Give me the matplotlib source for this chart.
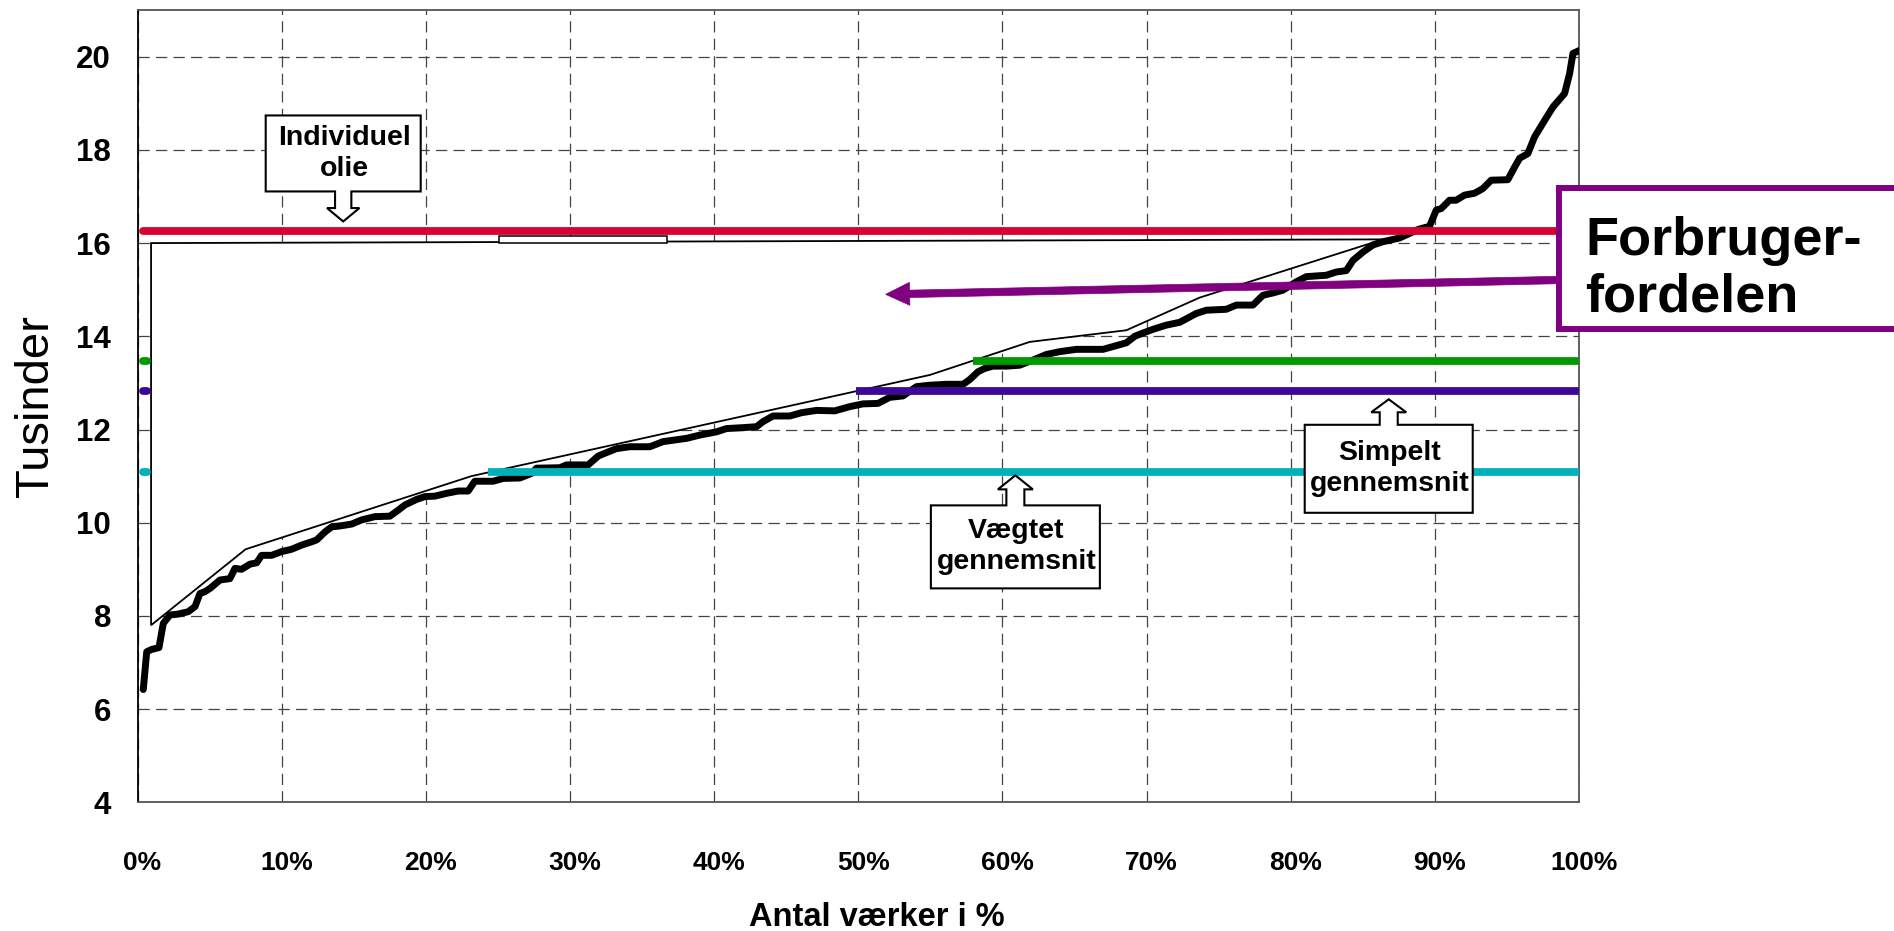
import matplotlib
matplotlib.use('Agg')
import matplotlib.pyplot as plt
import numpy as np
from matplotlib.patches import Polygon, Rectangle
from matplotlib.transforms import IdentityTransform, ScaledTranslation

plt.rcParams['font.family'] = ['Liberation Sans', 'DejaVu Sans']

# ---------------- data ----------------
# thick curve: share of plants (%) vs. cost (thousands)
curve_pct = [0.40, 0.64, 0.98, 1.49, 1.79, 2.25, 2.83, 3.52, 3.99, 4.33, 4.68, 5.03,
             5.72, 6.41, 6.76, 7.22, 7.80, 8.27, 8.61, 9.31, 10.0, 10.69, 11.39, 12.08,
             12.43, 13.0, 13.47, 14.04, 14.85, 15.55, 16.47, 17.51, 18.09, 18.55, 19.36,
             19.94, 20.63, 21.44, 22.25, 22.94, 23.40, 24.67, 25.37, 26.53, 27.34, 27.68,
             29.30, 29.76, 31.26, 31.96, 32.42, 33.23, 34.15, 35.54, 36.46, 37.16, 38.09,
             39.01, 40.17, 40.86, 42.01, 42.94, 43.40, 44.09, 45.25, 46.06, 47.10, 48.37,
             49.40, 50.33, 51.37, 52.18, 53.10, 54.04, 54.96, 56.10, 57.27, 57.73, 58.31,
             58.77, 59.35, 60.28, 61.20, 62.12, 63.05, 63.97, 65.13, 66.98, 67.67, 68.60,
             69.18, 69.75, 70.45, 71.37, 72.30, 73.45, 74.15, 75.53, 76.23, 77.38, 78.07,
             78.77, 79.46, 80.39, 81.08, 82.47, 83.16, 83.86, 84.32, 85.02, 85.71, 86.40,
             87.55, 88.90, 89.63, 90.10, 90.44, 91.02, 91.48, 92.06, 92.75, 93.33, 93.91,
             95.06, 95.53, 95.88, 96.45, 96.92, 97.49, 98.19, 99.00, 99.35, 99.58, 100.0]
curve_val = [6.42, 7.23, 7.28, 7.32, 7.84, 8.02, 8.04, 8.09, 8.20, 8.48, 8.52, 8.59,
             8.77, 8.80, 9.02, 9.00, 9.11, 9.14, 9.30, 9.30, 9.38, 9.43, 9.52, 9.59,
             9.63, 9.80, 9.91, 9.93, 9.97, 10.06, 10.13, 10.14, 10.27, 10.38, 10.50,
             10.56, 10.57, 10.63, 10.68, 10.68, 10.89, 10.89, 10.95, 10.96, 11.06, 11.17,
             11.18, 11.24, 11.24, 11.43, 11.49, 11.59, 11.63, 11.63, 11.74, 11.77, 11.81,
             11.88, 11.95, 12.02, 12.04, 12.06, 12.17, 12.29, 12.29, 12.36, 12.41, 12.40,
             12.49, 12.55, 12.56, 12.69, 12.72, 12.92, 12.95, 12.97, 12.97, 13.07, 13.24,
             13.31, 13.36, 13.36, 13.38, 13.49, 13.61, 13.67, 13.72, 13.72, 13.78, 13.86,
             14.00, 14.07, 14.15, 14.24, 14.30, 14.49, 14.56, 14.58, 14.67, 14.67, 14.88,
             14.93, 14.99, 15.17, 15.28, 15.31, 15.38, 15.41, 15.63, 15.81, 15.96, 16.03,
             16.11, 16.30, 16.36, 16.71, 16.74, 16.92, 16.92, 17.03, 17.07, 17.17, 17.35,
             17.36, 17.63, 17.82, 17.92, 18.28, 18.57, 18.92, 19.21, 19.64, 20.07, 20.13]

# thin piecewise approximation (outline of the white area)
approx_pct = [0.94, 7.50, 23.17, 54.96, 61.90, 68.60, 73.68, 86.40]
approx_val = [7.80, 9.43, 11.00, 13.17, 13.88, 14.13, 14.83, 16.08]
approx_top_left = 16.00

# small box on top edge
small_box_pct = [25.1, 36.7]
small_box_val = [16.00, 16.15]

# horizontal levels
level_names = ['Individuel olie', 'Forbruger', 'Simpelt gennemsnit', 'Vægtet gennemsnit']
level_vals = [16.25, 13.48, 12.82, 11.08]
level_colors = ['#DA0033', '#009A00', '#3C0996', '#00B1BB']

# consumer-surplus arrow (from, to)
arrow_pct = [98.9, 51.9]
arrow_val = [15.21, 14.90]

x_ticks = [i / 10 for i in range(11)]
x_ticklabels = [f'{i * 10}%' for i in range(11)]
y_ticks = list(range(4, 21, 2))

# ---------------- figure ----------------
W, H = 1894, 931
fig = plt.figure(figsize=(W / 100, H / 100), dpi=100)
ax = fig.add_axes([137.5 / W, (H - 802.3) / H, (1579 - 137.5) / W, 792.2 / H])
ax.set_xlim(0, 1)
ax.set_ylim(4, 21)

ax.set_xticks(x_ticks)
ax.set_xticklabels(x_ticklabels, fontsize=19, fontweight='bold')
ax.set_yticks(y_ticks)
ax.set_yticklabels([str(v) for v in y_ticks], fontsize=22.5, fontweight='bold')
ax.tick_params(axis='both', length=0)
ax.tick_params(axis='y', pad=19)
ax.tick_params(axis='x', pad=35)
for lab in ax.get_xticklabels():
    lab.set_transform(lab.get_transform() + ScaledTranslation(5 / 100, 0, fig.dpi_scale_trans))

ax.set_axisbelow(True)
ax.grid(True, color='#444444', lw=0.9, linestyle=(0, (9, 5)))
for side in ['top', 'right', 'bottom']:
    ax.spines[side].set_color('#555555')
    ax.spines[side].set_linewidth(1.3)
ax.spines['left'].set_color('black')
ax.spines['left'].set_linewidth(1.3)

# white polygon with thin outline (hides grid and level lines inside it)
poly_x = [p / 100 for p in approx_pct] + [approx_pct[0] / 100]
poly_y = approx_val + [approx_top_left]
ax.add_patch(Polygon(np.column_stack([poly_x, poly_y]), closed=True,
                     facecolor='white', edgecolor='black', lw=1.3, zorder=2))
ax.add_patch(Rectangle((small_box_pct[0] / 100, small_box_val[0]),
                       (small_box_pct[1] - small_box_pct[0]) / 100,
                       small_box_val[1] - small_box_val[0],
                       facecolor='white', edgecolor='black', lw=1.1, zorder=2.1))

# thick curve
ax.plot([p / 100 for p in curve_pct], curve_val, color='black', lw=5.0,
        solid_joinstyle='round', solid_capstyle='round', zorder=3)

# horizontal level lines, only the parts outside the white area are visible
left_edge = approx_pct[0] / 100
cap_frac = 3.9 / 1441.5
for v, c in zip(level_vals, level_colors):
    if v > max(approx_val) + 0.1:
        ax.plot([0.004, 1.0], [v, v], color=c, lw=5.6, solid_capstyle='round', zorder=4)
    else:
        x_int = np.interp(v, approx_val, approx_pct) / 100
        ax.plot([0.004, left_edge - cap_frac], [v, v], color=c, lw=5.6,
                solid_capstyle='round', zorder=4)
        ax.plot([x_int, 1.0], [v, v], color=c, lw=5.6, solid_capstyle='butt', zorder=4)

fig.canvas.draw()
ident = IdentityTransform()


def to_px(xf, yv):
    return ax.transData.transform((xf, yv))


def callout(tip_frac, level, up, gap, box_w, box_h, shaft_w, shaft_len,
            head_w, head_len, lines, fs=20.5):
    tx, ty = to_px(tip_frac, level)
    s = 1 if up else -1  # direction from box to tip in display y
    tip_y = ty - s * gap
    base = tip_y - s * head_len
    box_edge = base - s * shaft_len
    far_edge = box_edge - s * box_h
    bx0, bx1 = tx - box_w / 2, tx + box_w / 2
    verts = [(bx0, far_edge), (bx1, far_edge), (bx1, box_edge),
             (tx + shaft_w / 2, box_edge), (tx + shaft_w / 2, base),
             (tx + head_w / 2, base), (tx, tip_y), (tx - head_w / 2, base),
             (tx - shaft_w / 2, base), (tx - shaft_w / 2, box_edge), (bx0, box_edge)]
    fig.add_artist(Polygon(verts, closed=True, facecolor='white', edgecolor='black',
                           lw=1.5, transform=ident, zorder=6))
    cy = (box_edge + far_edge) / 2
    fig.text(tx + 1, cy, '\n'.join(lines), transform=ident, ha='center', va='center',
             fontsize=fs, fontweight='bold', linespacing=1.25, zorder=7)


callout(0.1427, level_vals[0], up=False, gap=10, box_w=155, box_h=76, shaft_w=16.3,
        shaft_len=16.6, head_w=32.4, head_len=13.4, lines=['Individuel', 'olie'])
callout(0.609, level_vals[3], up=True, gap=3, box_w=169, box_h=83, shaft_w=18,
        shaft_len=16, head_w=35, head_len=14, lines=['Vægtet', 'gennemsnit'])
callout(0.868, level_vals[2], up=True, gap=8, box_w=168, box_h=88, shaft_w=18,
        shaft_len=12.5, head_w=35, head_len=13, lines=['Simpelt', 'gennemsnit'])

# purple arrow
p0 = to_px(arrow_pct[0] / 100, arrow_val[0])
p1 = to_px(arrow_pct[1] / 100, arrow_val[1])
d = (p1 - p0) / np.hypot(*(p1 - p0))
n = np.array([-d[1], d[0]])
hl, hw, sw = 24, 11.5, 3.7
b = p1 - d * hl
arrow_verts = [p0 + n * sw, b + n * sw, b + n * hw, p1, b - n * hw, b - n * sw, p0 - n * sw]
fig.add_artist(Polygon(arrow_verts, closed=True, facecolor='#800080', edgecolor='#800080',
                       lw=0.5, transform=ident, zorder=5))

# purple box
fig.add_artist(Rectangle((1559, H - 329), 400, 141, facecolor='white', edgecolor='#800080',
                         lw=4.3, transform=ident, zorder=8, clip_on=False))
fig.text(1585, H - 255, 'Forbruger-', transform=ident, ha='left', va='baseline',
         fontsize=39, fontweight='bold', zorder=9)
fig.text(1585, H - 311, 'fordelen', transform=ident, ha='left', va='baseline',
         fontsize=39, fontweight='bold', zorder=9)

# axis titles
fig.text(36, H - 406, 'Tusinder', transform=ident, rotation=90, ha='center', va='center',
         fontsize=34)
fig.text(877, H - 917, 'Antal værker i %', transform=ident, ha='center', va='center',
         fontsize=23.5, fontweight='bold')

fig.savefig('out.png', dpi=100)
